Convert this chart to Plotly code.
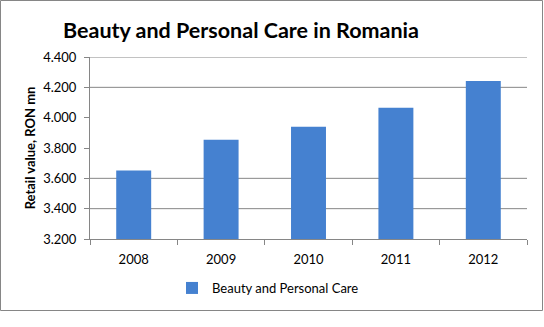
import plotly.graph_objects as go

years = ["2008", "2009", "2010", "2011", "2012"]
values = [3652, 3855, 3940, 4066, 4241]
series_name = "Beauty and Personal Care"
y_ticks = [3200, 3400, 3600, 3800, 4000, 4200, 4400]
visible_grid = [3400, 3600, 4200, 4400]

W, H = 544, 327
ml, mr, mt, mb = 90, 17, 57, 88
pw, ph = W - ml - mr, H - mt - mb
gray = "#868686"
font_fam = "Lato, 'Open Sans', sans-serif"

fig = go.Figure()
fig.add_trace(go.Bar(x=years, y=values, name=series_name,
                     marker=dict(color="#4581D0", line=dict(width=0)),
                     showlegend=True))

shapes = []
for g in visible_grid:
    shapes.append(dict(type="line", xref="paper", yref="y", x0=0, x1=1, y0=g, y1=g,
                       line=dict(color=gray, width=1), layer="below"))
# outer chart border
shapes.append(dict(type="rect", xref="paper", yref="paper",
                   x0=(0.5 - ml) / pw, x1=(542.5 - ml) / pw,
                   y0=((H - 310.5) - mb) / ph, y1=((H - 0.5) - mb) / ph,
                   line=dict(color=gray, width=1), fillcolor="rgba(0,0,0,0)", layer="above"))

fig.update_layout(
    width=W, height=H,
    margin=dict(l=ml, r=mr, t=mt, b=mb, autoexpand=False),
    paper_bgcolor="white", plot_bgcolor="white",
    separators=",.",
    bargap=0.6,
    font=dict(family=font_fam, color="#000000"),
    title=dict(text="<b>Beauty and Personal Care in Romania</b>",
               x=241 / W, xanchor="center", xref="container",
               y=1 - 30 / H, yanchor="middle", yref="container",
               font=dict(size=21.5, family=font_fam, color="#000000")),
    xaxis=dict(type="category", showline=True, linecolor=gray, linewidth=1,
               ticks="outside", tickson="boundaries", ticklen=5, tickcolor=gray,
               ticklabelstandoff=8, automargin=False,
               showgrid=False, tickfont=dict(size=13, color="#000000"), fixedrange=True),
    yaxis=dict(range=[3200, 4400], tickvals=y_ticks, tickformat=",d",
               showline=True, linecolor=gray, linewidth=1,
               ticks="outside", ticklen=5, tickcolor=gray, showgrid=False, zeroline=False,
               ticklabelstandoff=5, automargin=False,
               tickfont=dict(size=13, color="#000000"),
               title=dict(text="<b>Retail value, RON mn</b>", font=dict(size=13), standoff=4)),
    legend=dict(orientation="h", xref="container", yref="container",
                x=268 / W, xanchor="center", y=39 / H, yanchor="middle",
                itemwidth=30,
                font=dict(size=13, color="#000000")),
    shapes=shapes,
)

fig.write_html("out.html")
